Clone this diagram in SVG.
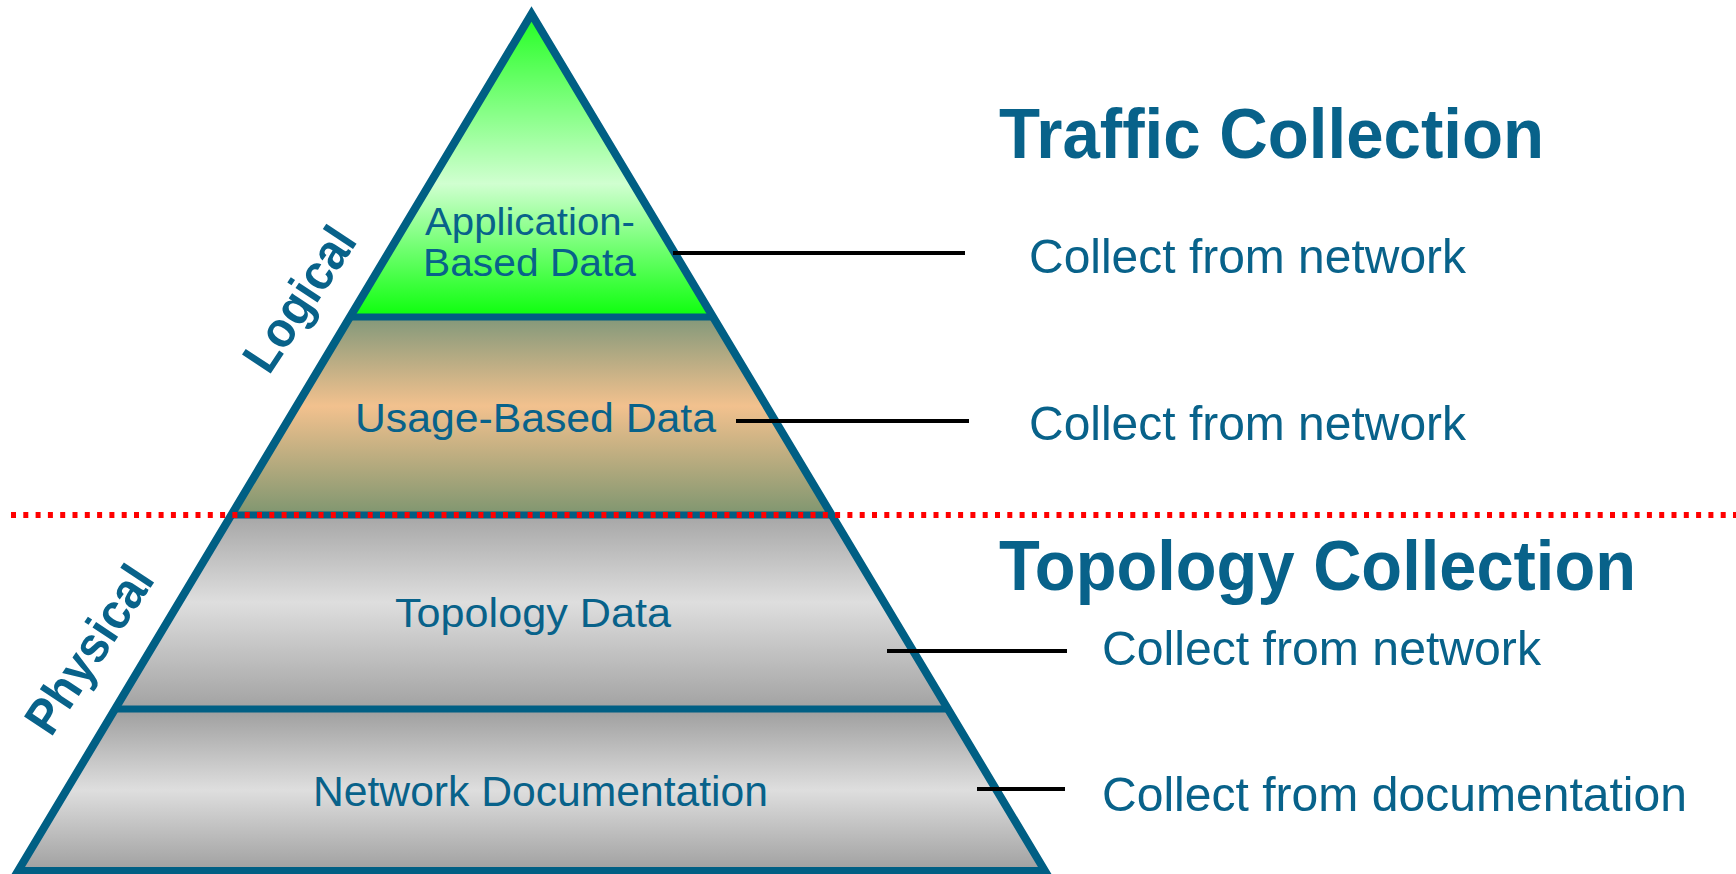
<svg xmlns="http://www.w3.org/2000/svg" width="1736" height="874" viewBox="0 0 1736 874">
<defs>
<style>
.lbl{font-family:"Liberation Sans",Arial,sans-serif;fill:#08628a;}
.b{font-weight:bold;}
.edge{stroke:#005f84;stroke-width:8;fill:none;stroke-linejoin:miter;}
.band{stroke:#005f84;stroke-width:7;}
.conn{stroke:#000;stroke-width:4;}
</style>
<linearGradient id="gGreen" gradientUnits="userSpaceOnUse" x1="0" y1="14" x2="0" y2="317">
<stop offset="0" stop-color="#22ff22"/>
<stop offset="0.56" stop-color="#d0ffd0"/>
<stop offset="1" stop-color="#0cff0c"/>
</linearGradient>
<linearGradient id="gUsage" gradientUnits="userSpaceOnUse" x1="0" y1="317" x2="0" y2="515">
<stop offset="0" stop-color="#82987a"/>
<stop offset="0.45" stop-color="#f2c18e"/>
<stop offset="1" stop-color="#7f9670"/>
</linearGradient>
<linearGradient id="gTopo" gradientUnits="userSpaceOnUse" x1="0" y1="515" x2="0" y2="709">
<stop offset="0" stop-color="#a6a6a6"/>
<stop offset="0.45" stop-color="#dedede"/>
<stop offset="1" stop-color="#a2a2a2"/>
</linearGradient>
<linearGradient id="gDoc" gradientUnits="userSpaceOnUse" x1="0" y1="709" x2="0" y2="871">
<stop offset="0" stop-color="#9e9e9e"/>
<stop offset="0.5" stop-color="#dedede"/>
<stop offset="1" stop-color="#a0a0a0"/>
</linearGradient>
<clipPath id="tri"><polygon points="531.5,14 18,871 1045,871"/></clipPath>
</defs>

<g id="pyramid">
<g clip-path="url(#tri)">
<rect id="band-app" x="0" y="0" width="1100" height="317" fill="url(#gGreen)"/>
<rect id="band-usage" x="0" y="317" width="1100" height="198" fill="url(#gUsage)"/>
<rect id="band-topo" x="0" y="515" width="1100" height="194" fill="url(#gTopo)"/>
<rect id="band-doc" x="0" y="709" width="1100" height="162" fill="url(#gDoc)"/>
</g>
<line class="band" x1="349.9" y1="317" x2="713.1" y2="317"/>
<line class="band" x1="231.3" y1="515" x2="831.7" y2="515"/>
<line class="band" x1="115" y1="709" x2="948" y2="709"/>
<polygon class="edge" points="531.5,14 18,871 1045,871"/>
</g>

<g id="node-app">
<text class="lbl" x="425" y="235" font-size="39" textLength="210" lengthAdjust="spacingAndGlyphs">Application-</text>
<text class="lbl" x="423" y="276" font-size="39" textLength="213" lengthAdjust="spacingAndGlyphs">Based Data</text>
</g>
<g id="node-usage">
<text class="lbl" x="355" y="432" font-size="40" textLength="361" lengthAdjust="spacingAndGlyphs">Usage-Based Data</text>
</g>
<g id="node-topo">
<text class="lbl" x="395" y="627" font-size="41" textLength="276" lengthAdjust="spacingAndGlyphs">Topology Data</text>
</g>
<g id="node-doc">
<text class="lbl" x="313" y="806" font-size="42" textLength="455" lengthAdjust="spacingAndGlyphs">Network Documentation</text>
</g>

<g id="side-labels">
<text class="lbl b" font-size="50" textLength="162" lengthAdjust="spacingAndGlyphs" transform="translate(269,376) rotate(-56.5)">Logical</text>
<text class="lbl b" font-size="50" textLength="190" lengthAdjust="spacingAndGlyphs" transform="translate(51,738) rotate(-56.5)">Physical</text>
</g>

<g id="divider">
<line x1="11" y1="515" x2="1736" y2="515" stroke="#ff0000" stroke-width="6" stroke-dasharray="5 7.3"/>
</g>

<g id="connectors">
<line class="conn" x1="673" y1="253" x2="965" y2="253"/>
<line class="conn" x1="736" y1="421" x2="969" y2="421"/>
<line class="conn" x1="887" y1="651" x2="1067" y2="651"/>
<line class="conn" x1="977" y1="789" x2="1065" y2="789"/>
</g>

<g id="heading-traffic">
<text class="lbl b" x="999" y="158" font-size="70" textLength="545" lengthAdjust="spacingAndGlyphs">Traffic Collection</text>
</g>
<g id="note-1">
<text class="lbl" x="1029" y="273" font-size="49" textLength="437" lengthAdjust="spacingAndGlyphs">Collect from network</text>
</g>
<g id="note-2">
<text class="lbl" x="1029" y="440" font-size="49" textLength="437" lengthAdjust="spacingAndGlyphs">Collect from network</text>
</g>
<g id="heading-topology">
<text class="lbl b" x="999" y="590" font-size="70" textLength="637" lengthAdjust="spacingAndGlyphs">Topology Collection</text>
</g>
<g id="note-3">
<text class="lbl" x="1102" y="665" font-size="49" textLength="439" lengthAdjust="spacingAndGlyphs">Collect from network</text>
</g>
<g id="note-4">
<text class="lbl" x="1102" y="811" font-size="49" textLength="585" lengthAdjust="spacingAndGlyphs">Collect from documentation</text>
</g>
</svg>
